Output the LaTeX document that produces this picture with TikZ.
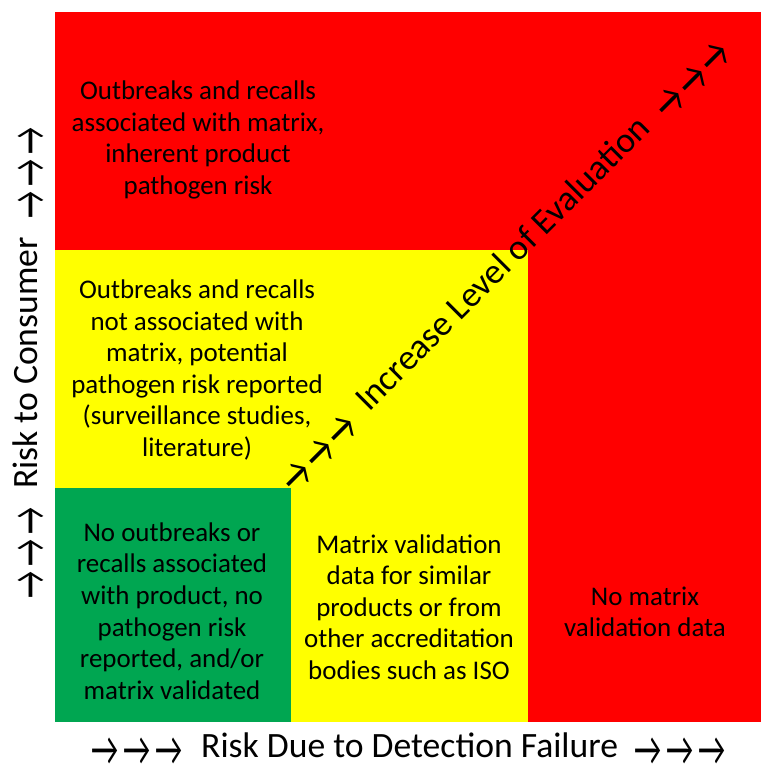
\documentclass[tikz,border=0pt]{standalone}
\usepackage{fontspec}
\setmainfont{Carlito}
\definecolor{hazardred}{RGB}{255,0,0}
\definecolor{cautionyellow}{RGB}{255,255,0}
\definecolor{safegreen}{RGB}{0,166,81}
\newcommand{\slimarrow}{\raisebox{-3.5pt}{\scalebox{0.84}[1.35]{→}}}
\newcommand{\arrowrun}{\slimarrow\kern2.1pt\slimarrow\kern2.1pt\slimarrow}
\begin{document}
\begin{tikzpicture}[scale=0.15]
\tikzstyle{every node}+=[inner sep=0pt]
\tikzstyle{cell}=[align=center, font=\fontsize{11.5}{13.5}\selectfont]
\tikzstyle{axis}=[anchor=base, font=\fontsize{15.2}{18}\selectfont]
\useasboundingbox (0.00,0.00) rectangle (76.10,-77.00);
\fill [hazardred] (5.45,-1.20) rectangle (76.10,-25.00);
\fill [cautionyellow] (5.45,-25.00) rectangle (52.80,-48.80);
\fill [hazardred] (52.80,-25.00) rectangle (76.10,-72.20);
\fill [safegreen] (5.45,-48.80) rectangle (29.10,-72.20);
\fill [cautionyellow] (29.10,-48.80) rectangle (52.80,-72.20);
\node [cell] (inherent) at (19.80,-14.00) {Outbreaks and recalls\\associated with matrix,\\inherent product\\pathogen risk};
\node [cell] (potential) at (19.70,-37.00) {Outbreaks and recalls\\not associated with\\matrix, potential\\pathogen risk reported\\(surveillance studies,\\literature)};
\node [cell] (validated) at (17.20,-61.10) {No outbreaks or\\recalls associated\\with product, no\\pathogen risk\\reported, and/or\\matrix validated};
\node [cell] (similar) at (40.90,-60.70) {Matrix validation\\data for similar\\products or from\\other accreditation\\bodies such as ISO};
\node [cell] (novalid) at (64.50,-61.20) {No matrix\\validation data};
\node [axis, rotate=90] (consumer) at (3.70,-36.30) {\arrowrun\kern8pt Risk to Consumer\kern8pt\arrowrun};
\node [axis] (detection) at (40.85,-75.70) {\arrowrun\kern8pt Risk Due to Detection Failure\kern7pt\arrowrun};
\node [axis, rotate=45] (evaluation) at (51.05,-27.15) {\arrowrun\kern8pt Increase Level of Evaluation\kern8pt\arrowrun};
\end{tikzpicture}
\end{document}
